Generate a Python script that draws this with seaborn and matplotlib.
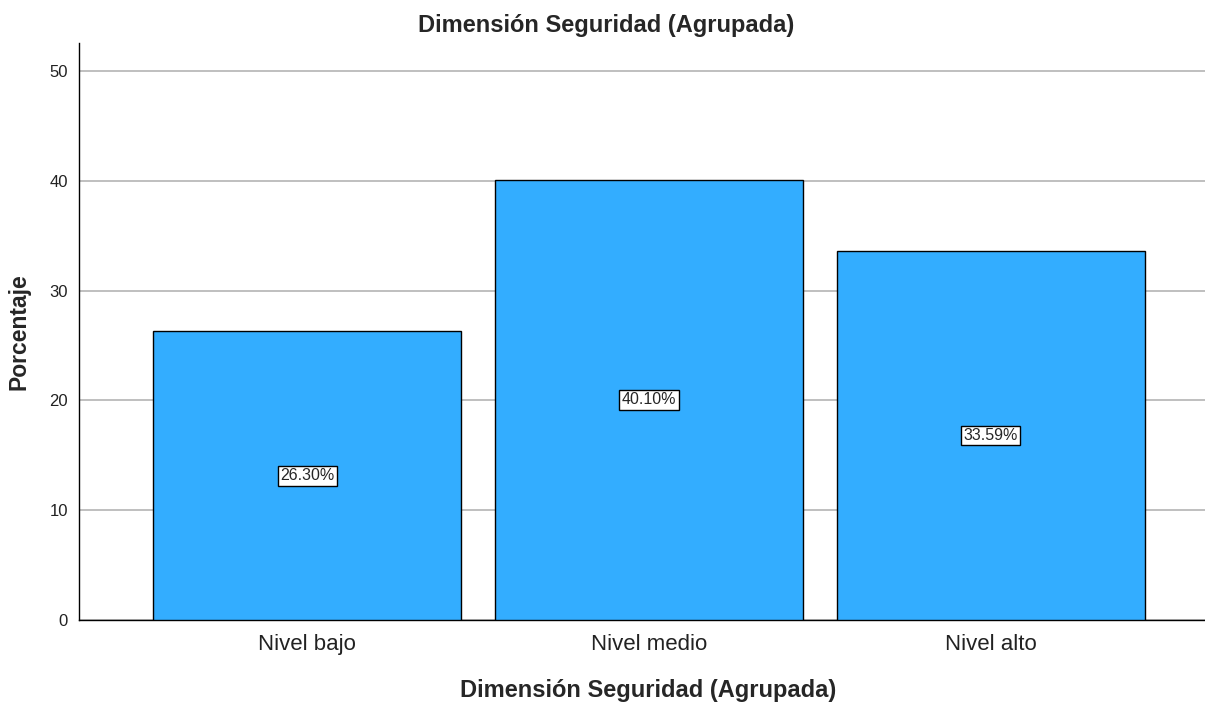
import matplotlib
matplotlib.use("Agg")
import matplotlib.pyplot as plt
import seaborn as sns
import pandas as pd

categories = ["Nivel bajo", "Nivel medio", "Nivel alto"]
values = [26.30, 40.10, 33.59]
labels = ["26.30%", "40.10%", "33.59%"]

sns.set_style("white")
plt.rcParams['font.family'] = ['Liberation Sans', 'DejaVu Sans']

df = pd.DataFrame({"cat": categories, "val": values})
fig = plt.figure(figsize=(12.05, 7.02), dpi=100)
ax = fig.add_axes([79/1205, 82/702, 1 - 79/1205, (620-43)/702])

sns.barplot(data=df, x="cat", y="val", ax=ax, color="#33adff", saturation=1,
            width=0.9, edgecolor="black", linewidth=1, zorder=3)

ax.set_ylim(0, 52.55)
ax.set_xlim(-0.668, 2.627)
ax.set_yticks([0, 10, 20, 30, 40, 50])
ax.yaxis.grid(True, color="#b4b4b4", linewidth=1.2, zorder=0)
ax.set_axisbelow(True)
for s in ["top", "right"]:
    ax.spines[s].set_visible(False)
ax.spines["left"].set_color("black")
ax.spines["bottom"].set_color("black")
ax.spines["left"].set_linewidth(1)
ax.spines["bottom"].set_linewidth(1)
ax.tick_params(axis="y", labelsize=12, length=0, pad=8, colors="#222222")
ax.tick_params(axis="x", labelsize=16, length=0, pad=10, colors="#222222")

for i, (v, lab) in enumerate(zip(values, labels)):
    ax.text(i, v / 2, lab, ha="center", va="center", fontsize=11.5, zorder=5,
            bbox=dict(boxstyle="square,pad=0.15", facecolor="white", edgecolor="black", linewidth=1))

ax.set_xlabel("Dimensión Seguridad (Agrupada)", fontsize=17, fontweight="bold")
ax.xaxis.set_label_coords(0.505, -0.102)
ax.set_ylabel("Porcentaje", fontsize=16.5, fontweight="bold")
ax.yaxis.set_label_coords(-0.043, 0.5)
fig.text(0.5033, 0.964, "Dimensión Seguridad (Agrupada)", ha="center", va="center",
         fontsize=17, fontweight="bold")

fig.savefig("out.png", dpi=100)
